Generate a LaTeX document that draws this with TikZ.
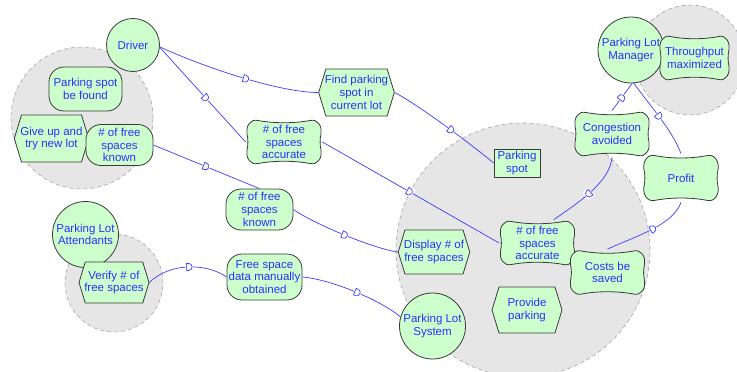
\documentclass[tikz,border=0pt]{standalone}
\usepackage{fontspec}
\setmainfont{Liberation Sans}
\usetikzlibrary{shapes.symbols, decorations.markings}

\definecolor{leaf}{HTML}{CCFFCC}
\definecolor{ink}{HTML}{2E2EFF}
\definecolor{wire}{HTML}{3C3CFF}
\definecolor{rim}{HTML}{3A3A3A}
\definecolor{zone}{HTML}{E6E6E6}

\begin{document}
\begin{tikzpicture}[x=1pt, y=1pt,
  every node/.style={font=\fontsize{11.5}{12.7}\selectfont, text=ink, align=center, draw=rim, line width=.8pt, fill=leaf, inner sep=1pt},
  actor/.style={circle, minimum size=66pt},
  goal/.style={rectangle, rounded corners=15pt, minimum width=67pt, minimum height=41pt},
  task/.style={signal, signal to=west and east, signal pointer angle=146, inner xsep=-1pt, minimum width=70pt, minimum height=45pt},
  res/.style={rectangle, minimum width=46pt, minimum height=28pt},
  sgoal/.style={rectangle, draw=none, fill=none, minimum width=76pt, minimum height=46pt},
  bound/.style={draw=gray!70, fill=zone, line width=.6pt, dash pattern=on 4pt off 3pt},
  pics/blob/.style={code={
    \draw[rim, fill=leaf, line width=.8pt] (-26,21.5) .. controls (-10,18.5) and (10,18.5) .. (26,21.5)
      .. controls (34,23.5) and (38.5,15) .. (37,8) .. controls (35.8,3) and (35.8,-3) .. (37,-8)
      .. controls (38.5,-15) and (34,-23.5) .. (26,-21.5) .. controls (10,-18.5) and (-10,-18.5) .. (-26,-21.5)
      .. controls (-34,-23.5) and (-38.5,-15) .. (-37,-8) .. controls (-35.8,-3) and (-35.8,3) .. (-37,8)
      .. controls (-38.5,15) and (-34,23.5) .. (-26,21.5) -- cycle;}},
  dep/.style={draw=wire, line width=.7pt, postaction={decorate, decoration={markings,
    mark=at position #1 with {\fill[white] (-3pt,-4.5pt) rectangle (4.5pt,4.5pt);
      \draw[wire, fill=white, line width=.7pt] (-2pt,-3.5pt) -- (0pt,-3.5pt) arc[start angle=-90, end angle=90, radius=3.5pt] -- (-2pt,3.5pt) -- cycle;}}}}
]
\useasboundingbox (0,0) rectangle (737,-372);

\draw[bound] (82,-118) circle (71);
\draw[bound] (114,-283) circle (49);
\draw[bound] (690,-60) circle (55);
\draw[bound] (523,-250) circle (127);

\node[actor, minimum size=53pt] (driver) at (133,-45) {Driver};
\node[actor] (manager) at (631,-50) {Parking Lot\\Manager};
\node[actor] (attend) at (85.5,-234.5) {Parking Lot\\Attendants};
\node[actor] (pls) at (432.5,-326) {Parking Lot\\System};

\node[goal, minimum width=73pt, minimum height=44pt] (found) at (85.5,-89) {Parking spot\\be found};
\node[task, minimum width=71pt, minimum height=47pt] (giveup) at (51.5,-138.5) {Give up and\\try new lot};
\node[goal] (known1) at (119.5,-145) {\# of free\\spaces\\known};
\node[task, minimum width=72pt, minimum height=47pt] (findspot) at (356.5,-92.5) {Find parking\\spot in\\current lot};
\pic at (284,-142) {blob};
\node[sgoal] (acc1) at (284,-142) {\# of free\\spaces\\accurate};
\node[goal] (known2) at (259.5,-209.5) {\# of free\\spaces\\known};
\node[goal, minimum width=75pt, minimum height=46pt] (freedata) at (264.5,-277) {Free space\\data manually\\obtained};
\node[task, minimum width=64pt, minimum height=41pt] (verify) at (114,-282.5) {Verify \# of\\free spaces};
\node[task, minimum height=44pt] (display) at (434,-252) {Display \# of\\free spaces};
\node[res] (spot) at (517,-163) {Parking\\spot};
\pic at (612,-134) {blob};
\node[sgoal] (cong) at (612,-134) {Congestion\\avoided};
\pic[xscale=.93] at (694.5,-58) {blob};
\node[sgoal, minimum width=71pt] (thru) at (694.5,-58) {Throughput\\maximized};
\pic[yscale=1.04] at (681,-178) {blob};
\node[sgoal, minimum height=48pt] (profit) at (681,-178) {Profit};
\pic at (537.5,-243) {blob};
\node[sgoal] (acc2) at (537.5,-243) {\# of free\\spaces\\accurate};
\pic at (607.5,-272.5) {blob};
\node[sgoal] (costs) at (607.5,-272.5) {Costs be\\saved};
\node[task, minimum height=46pt] (provide) at (527,-310) {Provide\\parking};

\draw[dep=.55] (driver.-4) .. controls +(-25:45) and +(180:40) .. (findspot.west);
\draw[dep=.53] (driver.-5) -- (acc1.west);
\draw[dep=.55] (findspot.east) .. controls +(-28:30) and +(140:25) .. (spot.west);
\draw[dep=.49] (acc1.east) -- (acc2.west);
\draw[dep=.49] (known1.east) -- (known2.north);
\draw[dep=.5] (known2.east) .. controls +(-35:25) and +(172:25) .. (display.west);
\draw[dep=.52] (verify.east) .. controls +(45:28) and +(145:25) .. (freedata.west);
\draw[dep=.53] (freedata.east) .. controls +(-5:30) and +(140:25) .. (pls.164);
\draw[dep=.5] (cong.south) .. controls +(-95:25) and +(35:30) .. (acc2.55);
\draw[dep=.46] (cong.north) -- (manager.-88);
\draw[dep=.48] (manager.-85) .. controls +(-55:25) and +(110:25) .. (profit.north);
\draw[dep=.55] (costs.north) .. controls +(25:30) and +(-110:25) .. (profit.south);
\end{tikzpicture}
\end{document}
